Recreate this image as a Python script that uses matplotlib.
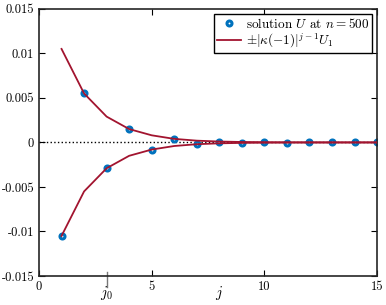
import numpy as np
import matplotlib
matplotlib.use("Agg")
import matplotlib.pyplot as plt

plt.rcParams["font.family"] = "serif"
plt.rcParams["font.serif"] = ["cmr10", "DejaVu Serif"]
plt.rcParams["mathtext.fontset"] = "cm"
plt.rcParams["axes.unicode_minus"] = False

# data
j = np.arange(1, 16)
U = [-0.0105, 0.0055, -0.0029, 0.0015, -0.0008, 0.0004, -0.0002, 0.0001,
     -0.00005, 0.00003, -0.00001, 0.00001, 0.0, 0.0, 0.0]
bound = [0.0105, 0.0055, 0.0029, 0.0015, 0.0008, 0.0004, 0.0002, 0.0001,
         0.00005, 0.00003, 0.00001, 0.00001, 0.0, 0.0, 0.0]
xticks = [0, 5, 10, 15]
yticks = [-0.015, -0.01, -0.005, 0, 0.005, 0.01, 0.015]
ylabels = ["-0.015", "-0.01", "-0.005", "0", "0.005", "0.01", "0.015"]
j0 = 3

blue = "#0072BD"
red = "#A2142F"

fig = plt.figure(figsize=(3.86, 3.05), dpi=100)
ax = fig.add_axes([0.101, 0.095, 0.876, 0.876])

ax.axhline(0, color="k", ls=":", lw=1, zorder=1)
ax.plot(j, U, "o", ls="none", mfc="none", mec=blue, ms=3.6, mew=2.2,
        label=r"solution $U$ at $n=500$", zorder=2)
ax.plot(j, bound, color=red, lw=1.3, label=r"$\pm|\kappa(-1)|^{j-1}U_1$", zorder=3)
ax.plot(j, -np.array(bound), color=red, lw=1.3, zorder=3)

ax.set_xlim(0, 15)
ax.set_ylim(-0.015, 0.015)
ax.set_xticks(xticks)
ax.set_xticklabels([str(t) for t in xticks])
ax.set_yticks(yticks)
ax.set_yticklabels(ylabels)
ax.tick_params(direction="in", top=True, right=True, labelsize=9, length=4, width=0.8)
for s in ax.spines.values():
    s.set_linewidth(1.2)
    s.set_color("#262626")

# j0 marker below the axis
ax.plot([j0, j0], [-0.0146, -0.0162], color="#777777", lw=1, clip_on=False)
ax.text(j0, -0.0169, r"$j_0$", ha="center", va="center", fontsize=10.5)
ax.text(8, -0.0169, r"$j$", ha="center", va="center", fontsize=10.5)

leg = ax.legend(loc="upper right", fontsize=9.5, fancybox=False, framealpha=1,
                edgecolor="k", borderpad=0.2, handlelength=1.8, handletextpad=0.4,
                labelspacing=0.1, borderaxespad=0.4)
leg.get_frame().set_linewidth(1)

fig.savefig("out.png", dpi=100)
